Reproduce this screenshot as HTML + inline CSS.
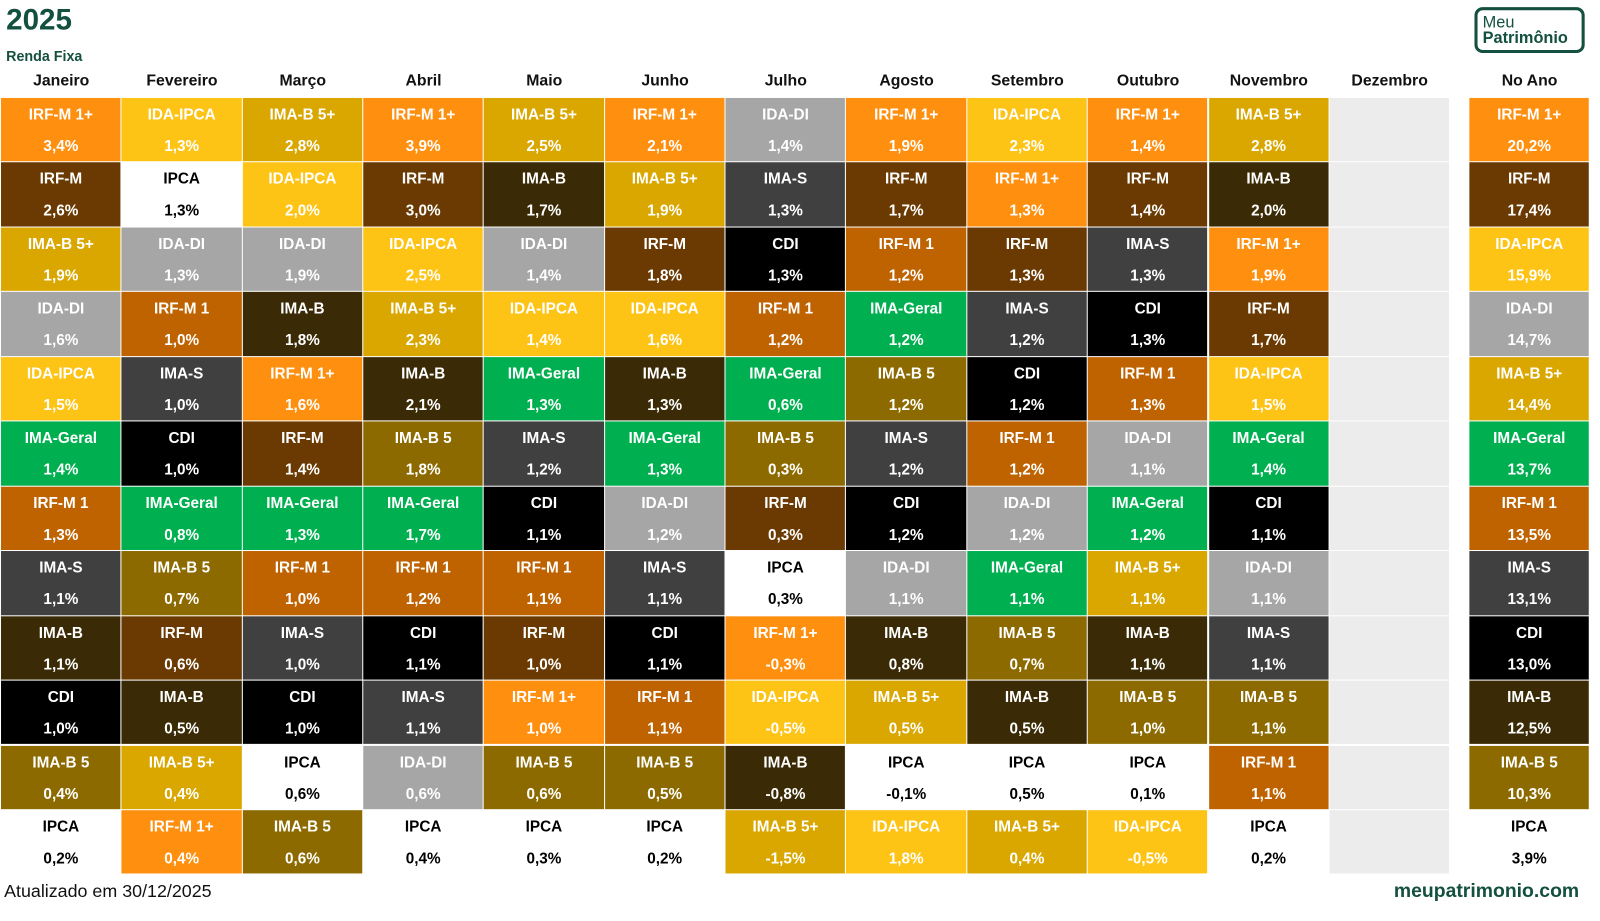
<!DOCTYPE html>
<html><head><meta charset="utf-8">
<style>
body{margin:0;width:1600px;height:921px;background:#fff;position:relative;overflow:hidden;font-family:"Liberation Sans",sans-serif;}
#wrap{position:absolute;left:0;top:0;width:1568px;height:903px;transform:scale(1.0204);transform-origin:0 0;}
.t{position:absolute;white-space:nowrap;}
.cell{position:absolute;box-sizing:border-box;color:#fff;font-weight:bold;font-size:15px;text-align:center;}
.cell .n{position:absolute;left:0;right:0;top:8px;}
.cell .v{position:absolute;left:0;right:0;top:39px;}
.hdr{position:absolute;top:71px;width:118px;text-align:center;font-weight:bold;font-size:15.5px;color:#111;}
</style></head><body>
<div id="wrap">
<div class="t" style="left:6px;top:4px;font-size:29px;font-weight:bold;color:#14503f;">2025</div>
<div class="t" style="left:6px;top:47px;font-size:14px;font-weight:bold;color:#14503f;">Renda Fixa</div>
<div style="position:absolute;left:1445px;top:7px;width:108px;height:45px;border:3px solid #14503f;border-radius:8px;box-sizing:border-box;color:#14503f;font-size:16px;line-height:15px;padding:5px 0 0 5px;">Meu<br><b>Patrimônio</b></div>
<div id="grid"></div>
<div class="t" style="left:4px;top:863px;font-size:17.5px;color:#111;">Atualizado em 30/12/2025</div>
<div class="t" style="left:1366px;top:863px;font-size:19px;font-weight:bold;color:#14503f;">meupatrimonio.com</div>
</div>
<script>
const months=["Janeiro","Fevereiro","Março","Abril","Maio","Junho","Julho","Agosto","Setembro","Outubro","Novembro","Dezembro"];
const janNames=["IRF-M 1+","IRF-M","IMA-B 5+","IDA-DI","IDA-IPCA","IMA-Geral","IRF-M 1","IMA-S","IMA-B","CDI","IMA-B 5","IPCA"];
const janValues=[3.4,2.6,1.9,1.6,1.5,1.4,1.3,1.1,1.1,1.0,0.4,0.2];
const febNames=["IDA-IPCA","IPCA","IDA-DI","IRF-M 1","IMA-S","CDI","IMA-Geral","IMA-B 5","IRF-M","IMA-B","IMA-B 5+","IRF-M 1+"];
const febValues=[1.3,1.3,1.3,1.0,1.0,1.0,0.8,0.7,0.6,0.5,0.4,0.4];
const marNames=["IMA-B 5+","IDA-IPCA","IDA-DI","IMA-B","IRF-M 1+","IRF-M","IMA-Geral","IRF-M 1","IMA-S","CDI","IPCA","IMA-B 5"];
const marValues=[2.8,2.0,1.9,1.8,1.6,1.4,1.3,1.0,1.0,1.0,0.6,0.6];
const aprNames=["IRF-M 1+","IRF-M","IDA-IPCA","IMA-B 5+","IMA-B","IMA-B 5","IMA-Geral","IRF-M 1","CDI","IMA-S","IDA-DI","IPCA"];
const aprValues=[3.9,3.0,2.5,2.3,2.1,1.8,1.7,1.2,1.1,1.1,0.6,0.4];
const mayNames=["IMA-B 5+","IMA-B","IDA-DI","IDA-IPCA","IMA-Geral","IMA-S","CDI","IRF-M 1","IRF-M","IRF-M 1+","IMA-B 5","IPCA"];
const mayValues=[2.5,1.7,1.4,1.4,1.3,1.2,1.1,1.1,1.0,1.0,0.6,0.3];
const junNames=["IRF-M 1+","IMA-B 5+","IRF-M","IDA-IPCA","IMA-B","IMA-Geral","IDA-DI","IMA-S","CDI","IRF-M 1","IMA-B 5","IPCA"];
const junValues=[2.1,1.9,1.8,1.6,1.3,1.3,1.2,1.1,1.1,1.1,0.5,0.2];
const julNames=["IDA-DI","IMA-S","CDI","IRF-M 1","IMA-Geral","IMA-B 5","IRF-M","IPCA","IRF-M 1+","IDA-IPCA","IMA-B","IMA-B 5+"];
const julValues=[1.4,1.3,1.3,1.2,0.6,0.3,0.3,0.3,-0.3,-0.5,-0.8,-1.5];
const augNames=["IRF-M 1+","IRF-M","IRF-M 1","IMA-Geral","IMA-B 5","IMA-S","CDI","IDA-DI","IMA-B","IMA-B 5+","IPCA","IDA-IPCA"];
const augValues=[1.9,1.7,1.2,1.2,1.2,1.2,1.2,1.1,0.8,0.5,-0.1,1.8];
const sepNames=["IDA-IPCA","IRF-M 1+","IRF-M","IMA-S","CDI","IRF-M 1","IDA-DI","IMA-Geral","IMA-B 5","IMA-B","IPCA","IMA-B 5+"];
const sepValues=[2.3,1.3,1.3,1.2,1.2,1.2,1.2,1.1,0.7,0.5,0.5,0.4];
const octNames=["IRF-M 1+","IRF-M","IMA-S","CDI","IRF-M 1","IDA-DI","IMA-Geral","IMA-B 5+","IMA-B","IMA-B 5","IPCA","IDA-IPCA"];
const octValues=[1.4,1.4,1.3,1.3,1.3,1.1,1.2,1.1,1.1,1.0,0.1,-0.5];
const novNames=["IMA-B 5+","IMA-B","IRF-M 1+","IRF-M","IDA-IPCA","IMA-Geral","CDI","IDA-DI","IMA-S","IMA-B 5","IRF-M 1","IPCA"];
const novValues=[2.8,2.0,1.9,1.7,1.5,1.4,1.1,1.1,1.1,1.1,1.1,0.2];
const yearNames=["IRF-M 1+","IRF-M","IDA-IPCA","IDA-DI","IMA-B 5+","IMA-Geral","IRF-M 1","IMA-S","CDI","IMA-B","IMA-B 5","IPCA"];
const yearValues=[20.2,17.4,15.9,14.7,14.4,13.7,13.5,13.1,13.0,12.5,10.3,3.9];

const colors={"IRF-M 1+":"#ff8f0f","IDA-IPCA":"#fdc315","IMA-B 5+":"#d9a700","IRF-M":"#6a3a02","IMA-B":"#3a2a05","IDA-DI":"#a6a6a6","IMA-S":"#404040","CDI":"#000000","IRF-M 1":"#bf6200","IMA-Geral":"#00b050","IMA-B 5":"#8c6a00","IPCA":"#ffffff"};
const allNames=[janNames,febNames,marNames,aprNames,mayNames,junNames,julNames,augNames,sepNames,octNames,novNames];
const allValues=[janValues,febValues,marValues,aprValues,mayValues,junValues,julValues,augValues,sepValues,octValues,novValues];

const X0=1,CW=118.35,Y0=96,RH=63.45;
const colX=i=>X0+i*CW;
const rowY=r=>Y0+r*RH;
const g=document.getElementById('grid');
const fmt=v=>v.toFixed(1).replace('.',',')+'%';
function cell(x,y,name,val){
  const d=document.createElement('div');
  d.className='cell';
  
  
  d.style.left=x+'px';d.style.top=y+'px';d.style.width=(CW-1)+'px';d.style.height=(RH-1)+'px';
  d.style.background=colors[name];
  if(name==="IPCA")d.style.color="#000";
  d.innerHTML='<div class="n">'+name+'</div><div class="v">'+fmt(val)+'</div>';
  g.appendChild(d);
}
months.forEach((m,i)=>{
  const h=document.createElement('div');
  h.className='hdr';
  
  
  h.style.left=colX(i)+'px';h.textContent=m;g.appendChild(h);
});
const ya=document.createElement('div');
ya.className='hdr';


ya.style.left='1440px';ya.textContent='No Ano';g.appendChild(ya);
allNames.forEach((names,i)=>names.forEach((n,r)=>cell(colX(i),rowY(r),n,allValues[i][r])));
for(let r=0;r<12;r++){
  const d=document.createElement('div');
  
  
  d.style.cssText='position:absolute;left:'+colX(11)+'px;top:'+rowY(r)+'px;width:'+(CW-1)+'px;height:'+(RH-1)+'px;background:#ececec;';
  g.appendChild(d);
}
yearNames.forEach((n,r)=>cell(1440,rowY(r),n,yearValues[r]));
</script>
</body></html>
